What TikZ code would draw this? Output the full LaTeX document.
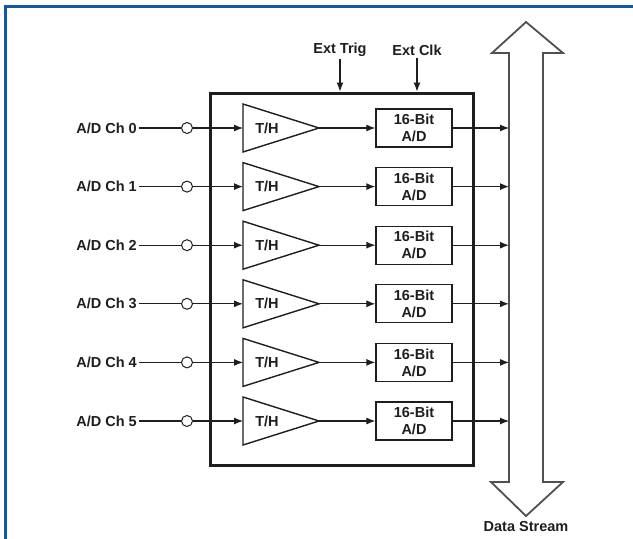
\documentclass[tikz,border=0pt]{standalone}
\usepackage{fontspec}
\setmainfont{Liberation Sans}
\usetikzlibrary{shapes.geometric,arrows.meta}
\definecolor{frameblue}{RGB}{16,88,168}
\definecolor{ink}{RGB}{30,30,30}
\definecolor{busgray}{RGB}{80,80,80}
\tikzset{
  lbl/.style={font=\fontsize{14.5}{17}\selectfont\bfseries, text=ink, inner sep=2pt},
  tri/.style={draw=ink, line width=1.4pt, shape=isosceles triangle, isosceles triangle stretches,
     minimum width=48pt, minimum height=76pt, inner sep=0pt, outer sep=0pt, shape border rotate=0},
  adbox/.style={draw=ink, line width=1.3pt, minimum width=76pt, minimum height=38pt, inner sep=0pt,
     align=center, font=\fontsize{14.5}{17}\selectfont\bfseries, text=ink},
  pin/.style={draw=ink, circle, line width=1pt, minimum size=11pt, inner sep=0pt, fill=white},
  wire/.style={draw=ink, line width=1.1pt},
  sig/.style={wire, -{Latex[length=9pt,width=7pt]}},
}
\begin{document}
\begin{tikzpicture}[x=1pt,y=-1pt]
\useasboundingbox (0,0) rectangle (633,539);
\fill[white] (0,0) rectangle (633,539);
% blue frame (top and left only)
\draw[frameblue, line width=3pt] (5.5,539) -- (5.5,6) -- (633,6);
% main box
\node[draw=ink, line width=3pt, minimum width=263pt, minimum height=372pt, inner sep=0pt] (box) at (341.5,279) {};
% data stream double arrow
\draw[busgray, line width=1.8pt, line join=miter, fill=white]
  (526,22) -- (563,53) -- (543,53) -- (543,482) -- (563,482) -- (526,516)
  -- (491,482) -- (509,482) -- (509,53) -- (492,53) -- cycle;
\node[lbl] (ds) at (526,527) {Data Stream};
% external inputs
\node[lbl] (trig) at (340,50) {Ext Trig};
\node[lbl] (clk) at (417,50) {Ext Clk};
\draw[sig] (trig.south) -- (trig.south |- box.north);
\draw[sig] (clk.south) -- (clk.south |- box.north);
% channels
\foreach \i in {0,...,5}{
  \pgfmathsetmacro{\yy}{128+58.6*\i}
  \node[lbl, anchor=east] (ch\i) at (139,\yy) {A/D Ch \i};
  \node[pin] (p\i) at (187,\yy) {};
  \node[tri, anchor=west] (t\i) at (243,\yy) {};
  \node[lbl] (th\i) at (267,\yy) {T/H};
  \node[adbox] (ad\i) at (414,\yy) {16-Bit\\A/D};
  \coordinate (bus\i) at (509,\yy);
  \draw[wire] (ch\i.east) -- (p\i.west);
  \draw[sig] (p\i.east) -- (t\i.west);
  \draw[sig] (t\i.apex) -- (ad\i.west);
  \draw[sig] (ad\i.east) -- (bus\i);
}
\end{tikzpicture}
\end{document}
